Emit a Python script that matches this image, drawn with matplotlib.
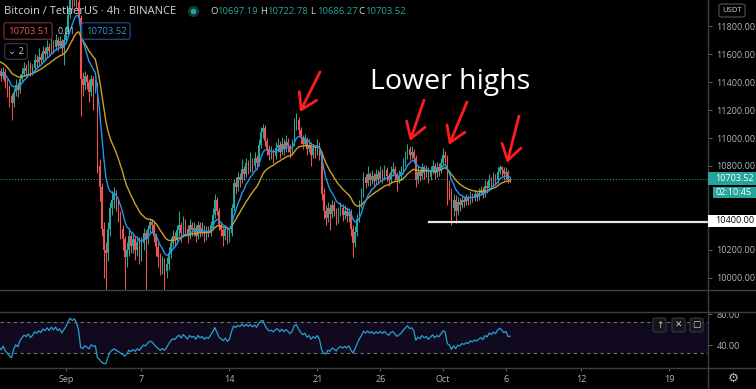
import numpy as np
import pandas as pd
import matplotlib
matplotlib.use('Agg')
import matplotlib.pyplot as plt
import matplotlib.dates as mdates
from matplotlib.patches import Rectangle, FancyBboxPatch
from matplotlib.lines import Line2D
from matplotlib.ticker import FormatStrFormatter

plt.rcParams['font.family'] = ['Open Sans', 'DejaVu Sans']

W, H = 756, 389

# closes before the visible window, only used to warm up the indicators
warmup_close = [11700, 11750, 11730, 11680, 11600, 11500,
                11420, 11360, 11330, 11380, 11420, 11460]

# BTCUSDT 4h candles, first visible one opens 2020-08-26 16:00
start = '2020-08-26 16:00'
first_open = 11500
close = [
    11480, 11440, 11470, 11400, 11350, 11300,
    11250, 11330, 11380, 11340, 11420, 11460,
    11500, 11480, 11520, 11470, 11500, 11560,
    11540, 11580, 11560, 11620, 11600, 11650,
    11620, 11680, 11650, 11700, 11660, 11690,
    11640, 11700, 11760, 11880, 11990, 11960,
    12020, 11970, 11860, 11420, 11380, 11440,
    11400, 11330, 11420, 11370, 11380, 10800,
    10650, 10350, 10200, 10180, 10350, 10500,
    10560, 10600, 10520, 10450, 10350, 10280,
    10150, 10200, 10300, 10230, 10280, 10200,
    10260, 10180, 10250, 10320, 10280, 10350,
    10400, 10380, 10300, 10220, 10150, 10080,
    10120, 10050, 10100, 10180, 10250, 10300,
    10280, 10340, 10380, 10320, 10400, 10350,
    10300, 10380, 10340, 10360, 10300, 10380,
    10330, 10360, 10300, 10340, 10320, 10380,
    10450, 10560, 10480, 10380, 10340, 10300,
    10350, 10280, 10320, 10500, 10680, 10650,
    10720, 10700, 10780, 10740, 10820, 10780,
    10840, 10800, 10860, 10820, 10950, 11040,
    11070, 10980, 10920, 10880, 10900, 10870,
    10930, 10950, 10900, 10960, 10920, 10970,
    10940, 10900, 10960, 11100, 11130, 11060,
    11000, 10960, 10990, 10920, 10950, 10880,
    10930, 10900, 10950, 10880, 10600, 10480,
    10430, 10500, 10460, 10520, 10480, 10420,
    10470, 10500, 10450, 10480, 10440, 10470,
    10350, 10250, 10330, 10420, 10520, 10600,
    10720, 10680, 10740, 10700, 10730, 10690,
    10740, 10710, 10760, 10720, 10770, 10730,
    10700, 10760, 10780, 10740, 10700, 10730,
    10760, 10820, 10870, 10920, 10880, 10900,
    10860, 10700, 10760, 10730, 10790, 10750,
    10770, 10720, 10760, 10800, 10750, 10790,
    10770, 10820, 10880, 10860, 10650, 10620,
    10500, 10560, 10480, 10540, 10520, 10560,
    10540, 10570, 10550, 10590, 10570, 10600,
    10580, 10610, 10630, 10600, 10660, 10640,
    10700, 10680, 10720, 10700, 10760, 10790,
    10770, 10740, 10760, 10697.19, 10703.52,
]
high = [
    11530, 11500, 11510, 11490, 11420, 11380,
    11320, 11360, 11420, 11400, 11460, 11500,
    11540, 11530, 11560, 11540, 11530, 11600,
    11590, 11640, 11610, 11660, 11650, 11700,
    11680, 11720, 11700, 11740, 11720, 11730,
    11710, 11740, 11800, 11920, 12030, 12040,
    12070, 12050, 11990, 11880, 11470, 11480,
    11460, 11420, 11450, 11440, 11420, 11400,
    10850, 10680, 10400, 10260, 10400, 10540,
    10620, 10650, 10630, 10560, 10480, 10380,
    10300, 10260, 10340, 10330, 10320, 10300,
    10300, 10290, 10290, 10360, 10340, 10380,
    10430, 10420, 10400, 10320, 10250, 10180,
    10160, 10140, 10150, 10220, 10290, 10340,
    10330, 10380, 10480, 10400, 10440, 10420,
    10380, 10420, 10400, 10400, 10380, 10410,
    10400, 10400, 10380, 10370, 10370, 10410,
    10500, 10600, 10580, 10500, 10400, 10360,
    10380, 10370, 10350, 10530, 10710, 10720,
    10760, 10750, 10850, 10800, 10860, 10840,
    10900, 10860, 10900, 10880, 10990, 11080,
    11100, 11090, 11000, 10950, 10940, 10920,
    10970, 11000, 10980, 11010, 10990, 11020,
    11000, 10960, 10990, 11140, 11180, 11150,
    11080, 11020, 11030, 11010, 10990, 10970,
    10960, 10950, 10990, 10970, 10900, 10640,
    10520, 10540, 10530, 10560, 10550, 10500,
    10510, 10540, 10530, 10520, 10510, 10500,
    10490, 10380, 10370, 10460, 10560, 10640,
    10760, 10740, 10800, 10760, 10770, 10750,
    10780, 10770, 10800, 10780, 10810, 10790,
    10750, 10800, 10830, 10800, 10760, 10770,
    10800, 10860, 10910, 10960, 10940, 10940,
    10920, 10880, 10800, 10780, 10820, 10810,
    10810, 10790, 10800, 10840, 10820, 10830,
    10820, 10860, 10930, 10910, 10880, 10700,
    10640, 10600, 10590, 10580, 10570, 10590,
    10580, 10600, 10590, 10620, 10610, 10630,
    10620, 10640, 10660, 10650, 10700, 10690,
    10740, 10720, 10760, 10740, 10790, 10810,
    10800, 10790, 10790, 10770, 10722.78,
]
low = [
    11450, 11410, 11420, 11360, 11290, 11220,
    11130, 11220, 11300, 11290, 11320, 11400,
    11440, 11440, 11460, 11440, 11450, 11480,
    11510, 11520, 11530, 11540, 11560, 11580,
    11590, 11600, 11610, 11630, 11620, 11640,
    11590, 11520, 11680, 11740, 11860, 11920,
    11940, 11930, 11820, 11160, 11300, 11340,
    11350, 11260, 11300, 11200, 11320, 10750,
    10550, 10300, 10000, 9900, 10120, 10300,
    10450, 10500, 10480, 10400, 10280, 10200,
    9900, 10080, 10160, 10180, 10180, 10130,
    10160, 10100, 10120, 10200, 9900, 10240,
    10320, 10320, 10260, 10160, 10080, 10020,
    10030, 9900, 10000, 10060, 10140, 10220,
    10230, 10250, 10300, 10260, 10290, 10300,
    10250, 10280, 10300, 10300, 10260, 10280,
    10290, 10300, 10260, 10270, 10290, 10300,
    10360, 10430, 10450, 10340, 10300, 10230,
    10270, 10240, 10260, 10300, 10480, 10600,
    10620, 10650, 10680, 10700, 10720, 10740,
    10760, 10760, 10780, 10780, 10800, 10930,
    11000, 10940, 10880, 10840, 10850, 10820,
    10850, 10900, 10860, 10880, 10880, 10900,
    10900, 10860, 10880, 10940, 11060, 11020,
    10960, 10920, 10940, 10880, 10900, 10800,
    10860, 10860, 10880, 10840, 10560, 10420,
    10380, 10400, 10340, 10430, 10440, 10380,
    10390, 10440, 10410, 10420, 10400, 10400,
    10300, 10150, 10220, 10300, 10400, 10500,
    10580, 10640, 10660, 10660, 10670, 10650,
    10670, 10670, 10690, 10680, 10700, 10690,
    10660, 10680, 10730, 10700, 10620, 10680,
    10700, 10740, 10800, 10850, 10840, 10850,
    10820, 10650, 10680, 10690, 10710, 10710,
    10720, 10680, 10700, 10740, 10710, 10720,
    10730, 10750, 10800, 10820, 10520, 10560,
    10380, 10440, 10390, 10450, 10480, 10500,
    10510, 10520, 10520, 10530, 10540, 10550,
    10550, 10560, 10590, 10570, 10580, 10610,
    10620, 10650, 10660, 10670, 10680, 10740,
    10730, 10700, 10710, 10680, 10686.27,
]
price_ticks = [10000, 10200, 10800, 11000, 11200, 11400, 11600, 11800]
date_ticks = ['2020-09-01', '2020-09-07', '2020-09-14', '2020-09-21', '2020-09-26',
              '2020-10-01', '2020-10-06', '2020-10-12', '2020-10-19']
date_labels = ['Sep', '7', '14', '21', '26', 'Oct', '6', '12', '19']
last_price = 10703.52
support = 10400

GREEN = '#26a69a'
RED = '#ef5350'
GRID = '#3b3e48'
TXT = '#b2b5be'
BG = '#000000'


def fx(x):
    return x / W


def fy(y):
    return 1 - y / H


n_w = len(warmup_close)
t_all = mdates.date2num(pd.date_range(start, periods=len(close) + n_w, freq='4h')
                        - pd.Timedelta(hours=4 * n_w))
t = t_all[n_w:]
c = np.array(close, float)
o = np.array([first_open] + close[:-1], float)
hi = np.array(high, float)
lo = np.array(low, float)
cols = np.where(c >= o, GREEN, RED)

cs = pd.Series(warmup_close + close, dtype=float)
ema_fast = cs.ewm(span=9, adjust=False).mean()
ema_slow = cs.ewm(span=21, adjust=False).mean()
d = cs.diff()
gain = d.clip(lower=0).ewm(alpha=1 / 14).mean()
loss = (-d.clip(upper=0)).ewm(alpha=1 / 14).mean()
rsi = 100 - 100 / (1 + gain / loss)

sep1 = mdates.date2num(pd.Timestamp('2020-09-01'))
pxday = 12.57
xl = (sep1 - 66 / pxday, sep1 + 642 / pxday)

fig = plt.figure(figsize=(W / 100, H / 100), dpi=100, facecolor=BG)

# ---- price pane
ax = fig.add_axes([0, fy(290), fx(708), 290 / H], facecolor=BG)
ax.set_xlim(*xl)
ax.set_ylim(9914, 11986)
ax.axhline(last_price, color=GREEN, lw=0.7, ls=(0, (1, 2)), zorder=1)
ax.vlines(t, lo, hi, colors=cols, lw=0.75, zorder=2)
ax.bar(t, np.maximum(np.abs(c - o), 5), bottom=np.minimum(o, c), width=0.12,
       color=cols, lw=0, zorder=3)
ax.plot(t_all, ema_slow, color='#c9a227', lw=1, zorder=4)
ax.plot(t_all, ema_fast, color='#2196f3', lw=1, zorder=4)
ax.axhline(support, xmin=429 / 708, xmax=1, color='#e6e6e6', lw=1.6, zorder=5)
for s in ax.spines.values():
    s.set_visible(False)
ax.set_xticks([])
ax.yaxis.tick_right()
ax.set_yticks(price_ticks)
ax.yaxis.set_major_formatter(FormatStrFormatter('%.2f'))
ax.tick_params(axis='y', length=3, width=0.8, color='#5d606b', labelcolor=TXT,
               labelsize=6.5, pad=3)

# ---- RSI pane
ax2 = fig.add_axes([0, fy(368), fx(708), 56 / H], facecolor=BG)
ax2.set_xlim(*xl)
ax2.set_ylim(10.6, 82.9)
ax2.axhspan(30, 70, color='#110a1f', lw=0, zorder=0)
ax2.axhline(70, color='#6f7280', lw=0.8, ls=(0, (3, 3)))
ax2.axhline(30, color='#6f7280', lw=0.8, ls=(0, (3, 3)))
ax2.plot(t_all, rsi, color='#26a0cf', lw=0.9)
for s in ax2.spines.values():
    s.set_visible(False)
ax2.yaxis.tick_right()
ax2.set_yticks([40, 80])
ax2.yaxis.set_major_formatter(FormatStrFormatter('%.2f'))
ax2.tick_params(axis='y', length=3, width=0.8, color='#5d606b', labelcolor=TXT,
                labelsize=6.5, pad=3)
ax2.set_xticks([mdates.date2num(pd.Timestamp(x)) for x in date_ticks])
ax2.set_xticklabels(date_labels)
ax2.tick_params(axis='x', length=2.5, width=0.8, color='#5d606b', labelcolor=TXT,
                labelsize=6.5, pad=2.5)

# empty strip between panes hides top of the 80.00 label
fig.add_artist(Rectangle((fx(709), fy(312)), fx(47), 22 / H, transform=fig.transFigure,
                         fc=BG, ec='none', zorder=1))

# separators
for yy in [290, 312, 368]:
    fig.add_artist(Line2D([0, 1], [fy(yy), fy(yy)], color=GRID, lw=1, zorder=2))
fig.add_artist(Line2D([fx(708), fx(708)], [0, 1], color=GRID, lw=1, zorder=2))


# right scale labels
def scale_box(y0, y1, x0, fc, txt, tc):
    fig.add_artist(Rectangle((fx(x0), fy(y1)), fx(756 - x0), (y1 - y0) / H,
                             transform=fig.transFigure, fc=fc, ec='none', zorder=3))
    fig.text(fx(715), fy((y0 + y1) / 2), txt, color=tc, fontsize=6.5, ha='left',
             va='center', zorder=4)


scale_box(172, 185, 708, GREEN, '10703.52', 'white')
scale_box(187, 198, 713, GREEN, '02:10:45', 'white')
scale_box(215, 227, 708, 'white', '10400.00', 'black')

fig.add_artist(FancyBboxPatch((fx(719), fy(17)), fx(26), 13 / H,
                              boxstyle='round,pad=0,rounding_size=0.004',
                              transform=fig.transFigure, fc=BG, ec='#50535e', lw=0.8,
                              zorder=3))
fig.text(fx(732), fy(10.5), 'USDT', color='#d1d4dc', fontsize=5.5, ha='center',
         va='center', zorder=4)
fig.text(fx(733), fy(378), '\u2699', color=TXT, fontsize=9, ha='center', va='center',
         family='DejaVu Sans')

# RSI pane buttons
for bx, sym in [(653, '\u2191'), (672, '\u2715'), (690, '\u25a2')]:
    fig.add_artist(FancyBboxPatch((fx(bx), fy(332)), fx(13), 14 / H,
                                  boxstyle='round,pad=0,rounding_size=0.004',
                                  transform=fig.transFigure, fc='#15151c', ec='#34363f',
                                  lw=0.8, zorder=3))
    fig.text(fx(bx + 6.5), fy(325), sym, color='#c8cad2', fontsize=6.5, ha='center',
             va='center', family='DejaVu Sans', zorder=4)

# legend at top left
fig.text(fx(4), fy(11), 'Bitcoin / TetherUS \u00b7 4h \u00b7 BINANCE', color='#d1d4dc',
         fontsize=8, ha='left', va='center', zorder=5)
fig.add_artist(Line2D([fx(193)], [fy(11)], marker='o', ms=8, mfc='#123a36', mec='none',
                      zorder=5))
fig.add_artist(Line2D([fx(193)], [fy(11)], marker='o', ms=4, mfc=GREEN, mec='none',
                      zorder=6))
ohlc = [('O', '10697.19', 210), ('H', '10722.78', 260), ('L', '10686.27', 310),
        ('C', '10703.52', 358)]
for k, v, xx in ohlc:
    fig.text(fx(xx), fy(11), k, color='#d1d4dc', fontsize=6.8, ha='left', va='center')
    fig.text(fx(xx + 7.5), fy(11), v, color=GREEN, fontsize=6.8, ha='left', va='center')

fig.text(fx(28), fy(31), '10703.51', color='#f0585a', fontsize=6.8, ha='center',
         va='center', zorder=6,
         bbox=dict(boxstyle='round,pad=0.4,rounding_size=0.25', fc=BG, ec='#7d2a2e',
                   lw=0.9))
fig.text(fx(66), fy(31), '0.01', color='#c8cad2', fontsize=6.3, ha='center',
         va='center', zorder=6)
fig.text(fx(106), fy(31), '10703.52', color='#3b8fe0', fontsize=6.8, ha='center',
         va='center', zorder=6,
         bbox=dict(boxstyle='round,pad=0.4,rounding_size=0.25', fc=BG, ec='#1f4a86',
                   lw=0.9))
fig.text(fx(16), fy(51.5), '\u2304 2', color='#c8cad2', fontsize=6.8, ha='center',
         va='center', zorder=6,
         bbox=dict(boxstyle='round,pad=0.35,rounding_size=0.25', fc=BG, ec='#34363f',
                   lw=0.9))

# annotation
fig.text(fx(450), fy(82), 'Lower highs', color='white', fontsize=20.5, ha='center',
         va='center', zorder=6)
arrows = [((320, 72), (300, 112)), ((424, 100), (410, 141)),
          ((467, 102), (449, 145)), ((519, 116), (507, 163))]
for (x0, y0), (x1, y1) in arrows:
    ax.annotate('', xy=(fx(x1), fy(y1)), xytext=(fx(x0), fy(y0)),
                xycoords='figure fraction', textcoords='figure fraction',
                arrowprops=dict(arrowstyle='->,head_length=0.55,head_width=0.35',
                                color='#ff1c1c', lw=2, mutation_scale=20,
                                shrinkA=0, shrinkB=0), zorder=7)

plt.savefig('out.png', dpi=100, facecolor=BG)
